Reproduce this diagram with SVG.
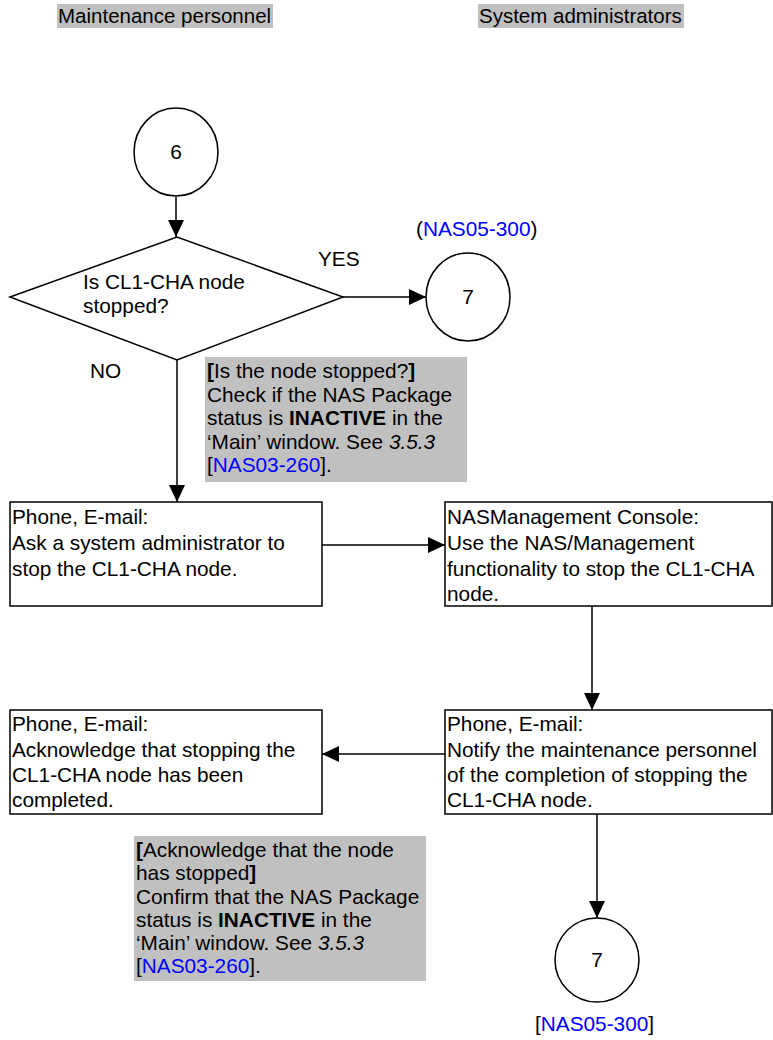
<svg xmlns="http://www.w3.org/2000/svg" width="773" height="1040" viewBox="0 0 773 1040">
<style>
text{font-family:"Liberation Sans",Arial,sans-serif;font-size:20.8px;fill:#000}
.b{font-weight:bold}
.i{font-style:italic}
.lnk{fill:#0000ff}
.box{fill:#fff;stroke:#000;stroke-width:1.5}
.note{fill:#c0c0c0}
.con{fill:none;stroke:#000;stroke-width:1.5}
</style>
<defs>
<marker id="ah" viewBox="0 0 17 16" refX="17" refY="8" markerWidth="17" markerHeight="16" markerUnits="userSpaceOnUse" orient="auto">
<path d="M0,0 L17,8 L0,16 z" fill="#000"/>
</marker>
</defs>
<rect width="773" height="1040" fill="#fff"/>
<g id="header-maint">
<rect class="note" x="57" y="4" width="216" height="24"/>
<text x="58" y="23" style="font-size:20.5px">Maintenance personnel</text>
</g>
<g id="header-admin">
<rect class="note" x="478" y="4" width="206" height="24"/>
<text x="479" y="23" style="font-size:20.5px">System administrators</text>
</g>
<g id="connectors">
<line class="con" x1="176" y1="197" x2="176" y2="237" marker-end="url(#ah)"/>
<line class="con" x1="343" y1="297" x2="426" y2="297" marker-end="url(#ah)"/>
<line class="con" x1="177" y1="360" x2="177" y2="502" marker-end="url(#ah)"/>
<line class="con" x1="322" y1="545" x2="445" y2="545" marker-end="url(#ah)"/>
<line class="con" x1="592" y1="606" x2="592" y2="710" marker-end="url(#ah)"/>
<line class="con" x1="445" y1="754" x2="322" y2="754" marker-end="url(#ah)"/>
<line class="con" x1="597" y1="814" x2="597" y2="918" marker-end="url(#ah)"/>
</g>
<g id="start6">
<ellipse class="box" cx="176" cy="152" rx="42" ry="44"/>
<text x="176" y="159" text-anchor="middle">6</text>
</g>
<g id="decision">
<polygon class="box" points="10,297 177,237 343,297 177,360"/>
<text x="83" y="289">Is CL1-CHA node</text>
<text x="83" y="313">stopped?</text>
</g>
<g id="label-yes"><text x="318" y="266">YES</text></g>
<g id="label-no"><text x="90" y="378">NO</text></g>
<g id="end7a">
<ellipse class="box" cx="468" cy="297" rx="42" ry="44"/>
<text x="468" y="304" text-anchor="middle">7</text>
<text x="416" y="236">(<tspan class="lnk">NAS05-300</tspan>)</text>
</g>
<g id="note1">
<rect class="note" x="205" y="357" width="262" height="125"/>
<text x="207" y="378"><tspan class="b">[</tspan>Is the node stopped?<tspan class="b">]</tspan></text>
<text x="207" y="402">Check if the NAS Package</text>
<text x="207" y="425">status is <tspan class="b">INACTIVE</tspan> in the</text>
<text x="207" y="449">‘Main’ window. See <tspan class="i">3.5.3</tspan></text>
<text x="207" y="472">[<tspan class="lnk">NAS03-260</tspan>].</text>
</g>
<g id="boxA">
<rect class="box" x="10" y="502" width="312" height="104"/>
<text x="12" y="524">Phone, E-mail:</text>
<text x="12" y="550">Ask a system administrator to</text>
<text x="12" y="576">stop the CL1-CHA node.</text>
</g>
<g id="boxB">
<rect class="box" x="445" y="502" width="327" height="104"/>
<text x="447" y="524">NASManagement Console:</text>
<text x="447" y="550">Use the NAS/Management</text>
<text x="447" y="576">functionality to stop the CL1-CHA</text>
<text x="447" y="601">node.</text>
</g>
<g id="boxD">
<rect class="box" x="445" y="710" width="327" height="104"/>
<text x="447" y="731">Phone, E-mail:</text>
<text x="447" y="757">Notify the maintenance personnel</text>
<text x="447" y="782">of the completion of stopping the</text>
<text x="447" y="807">CL1-CHA node.</text>
</g>
<g id="boxC">
<rect class="box" x="10" y="710" width="312" height="104"/>
<text x="12" y="731">Phone, E-mail:</text>
<text x="12" y="757">Acknowledge that stopping the</text>
<text x="12" y="782">CL1-CHA node has been</text>
<text x="12" y="807">completed.</text>
</g>
<g id="note2">
<rect class="note" x="134" y="836" width="292" height="145"/>
<text x="136" y="857"><tspan class="b">[</tspan>Acknowledge that the node</text>
<text x="136" y="880">has stopped<tspan class="b">]</tspan></text>
<text x="136" y="904">Confirm that the NAS Package</text>
<text x="136" y="927">status is <tspan class="b">INACTIVE</tspan> in the</text>
<text x="136" y="950">‘Main’ window. See <tspan class="i">3.5.3</tspan></text>
<text x="136" y="973">[<tspan class="lnk">NAS03-260</tspan>].</text>
</g>
<g id="end7b">
<circle class="box" cx="597" cy="960" r="42"/>
<text x="597" y="967" text-anchor="middle">7</text>
<text x="535" y="1031">[<tspan class="lnk">NAS05-300</tspan>]</text>
</g>
</svg>
